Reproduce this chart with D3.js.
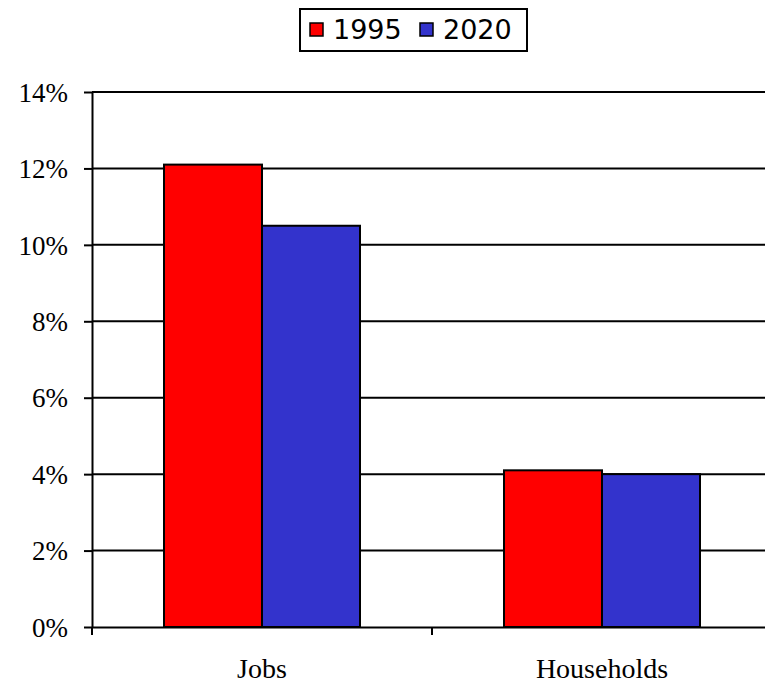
<!DOCTYPE html>
<html>
<head>
<meta charset="utf-8">
<script src="https://cdn.jsdelivr.net/npm/d3@7"></script>
<style>
  body { margin: 0; background: #fff; }
</style>
</head>
<body>
<div id="chart"></div>
<script>
const categories = ["Jobs", "Households"];
const seriesNames = ["1995", "2020"];
const values1995 = [12.1, 4.1];
const values2020 = [10.5, 4.0];
const yTicks = [0, 2, 4, 6, 8, 10, 12, 14];
const colors = ["#ff0000", "#3333cc"];

const W = 765, H = 684;
const margin = { top: 92, right: -7, bottom: 57, left: 92 },
  width = W - margin.left - margin.right,
  height = H - margin.top - margin.bottom;

const serif = "'Liberation Serif', 'Times New Roman', serif";

const data = categories.map((c, i) => ({
  cat: c,
  vals: [{ key: "1995", v: values1995[i] }, { key: "2020", v: values2020[i] }]
}));

const svg = d3.select("#chart").append("svg")
  .attr("width", W)
  .attr("height", H);

const g = svg.append("g")
  .attr("transform", `translate(${margin.left},${margin.top})`);

const x0 = d3.scaleBand()
  .domain(categories)
  .range([0, width])
  .paddingInner(0)
  .paddingOuter(0);

const x1 = d3.scaleBand()
  .domain(seriesNames)
  .range([72, x0.bandwidth() - 72]);

const y = d3.scaleLinear()
  .domain([0, 14])
  .range([height, 0]);

const color = d3.scaleOrdinal().domain(seriesNames).range(colors);

// gridlines
g.append("g")
  .selectAll("line")
  .data(yTicks.filter(t => t > 0))
  .join("line")
  .attr("x1", 0)
  .attr("x2", W)
  .attr("y1", d => y(d))
  .attr("y2", d => y(d))
  .attr("stroke", "#000")
  .attr("stroke-width", 2);

// bars
const groups = g.append("g")
  .selectAll("g")
  .data(data)
  .join("g")
  .attr("transform", d => `translate(${x0(d.cat)},0)`);

groups.selectAll("rect")
  .data(d => d.vals)
  .join("rect")
  .attr("x", d => x1(d.key))
  .attr("y", d => y(d.v))
  .attr("width", x1.bandwidth())
  .attr("height", d => height - y(d.v))
  .attr("fill", d => color(d.key))
  .attr("stroke", "#000")
  .attr("stroke-width", 2);

// y axis
const yAxis = g.append("g")
  .call(d3.axisLeft(y).tickValues(yTicks).tickFormat(d => d + "%").tickSize(8).tickSizeOuter(0));
yAxis.selectAll("text")
  .attr("x", -24)
  .attr("dy", "0.34em")
  .attr("fill", "#000")
  .style("font-family", serif)
  .style("font-size", "27px");
yAxis.selectAll("line").attr("stroke", "#000").attr("stroke-width", 2);
yAxis.select(".domain").attr("stroke", "#000").attr("stroke-width", 2);

// x axis
const xAxis = g.append("g")
  .attr("transform", `translate(0,${height})`)
  .call(d3.axisBottom(x0).tickSize(0).tickSizeOuter(0));
xAxis.selectAll("text")
  .attr("y", 51)
  .attr("dy", 0)
  .attr("fill", "#000")
  .style("font-family", serif)
  .style("font-size", "28px");
xAxis.select(".domain").attr("stroke", "#000").attr("stroke-width", 2);

// x ticks at band boundaries
g.append("g")
  .selectAll("line")
  .data(categories)
  .join("line")
  .attr("x1", d => x0(d))
  .attr("x2", d => x0(d))
  .attr("y1", height)
  .attr("y2", height + 8)
  .attr("stroke", "#000")
  .attr("stroke-width", 2);

// legend
const legend = svg.append("g");
legend.append("rect")
  .attr("x", 300)
  .attr("y", 9)
  .attr("width", 227)
  .attr("height", 42)
  .attr("fill", "#fff")
  .attr("stroke", "#000")
  .attr("stroke-width", 2);

const legendX = [310, 420];
seriesNames.forEach((s, i) => {
  legend.append("rect")
    .attr("x", legendX[i])
    .attr("y", 23)
    .attr("width", 13)
    .attr("height", 13)
    .attr("fill", color(s))
    .attr("stroke", "#000")
    .attr("stroke-width", 1.5);
  legend.append("text")
    .attr("x", legendX[i] + 23)
    .attr("y", 39)
    .style("font-family", "'DejaVu Sans', Verdana, sans-serif")
    .style("font-size", "27px")
    .attr("fill", "#000")
    .text(s);
});
</script>
</body>
</html>
